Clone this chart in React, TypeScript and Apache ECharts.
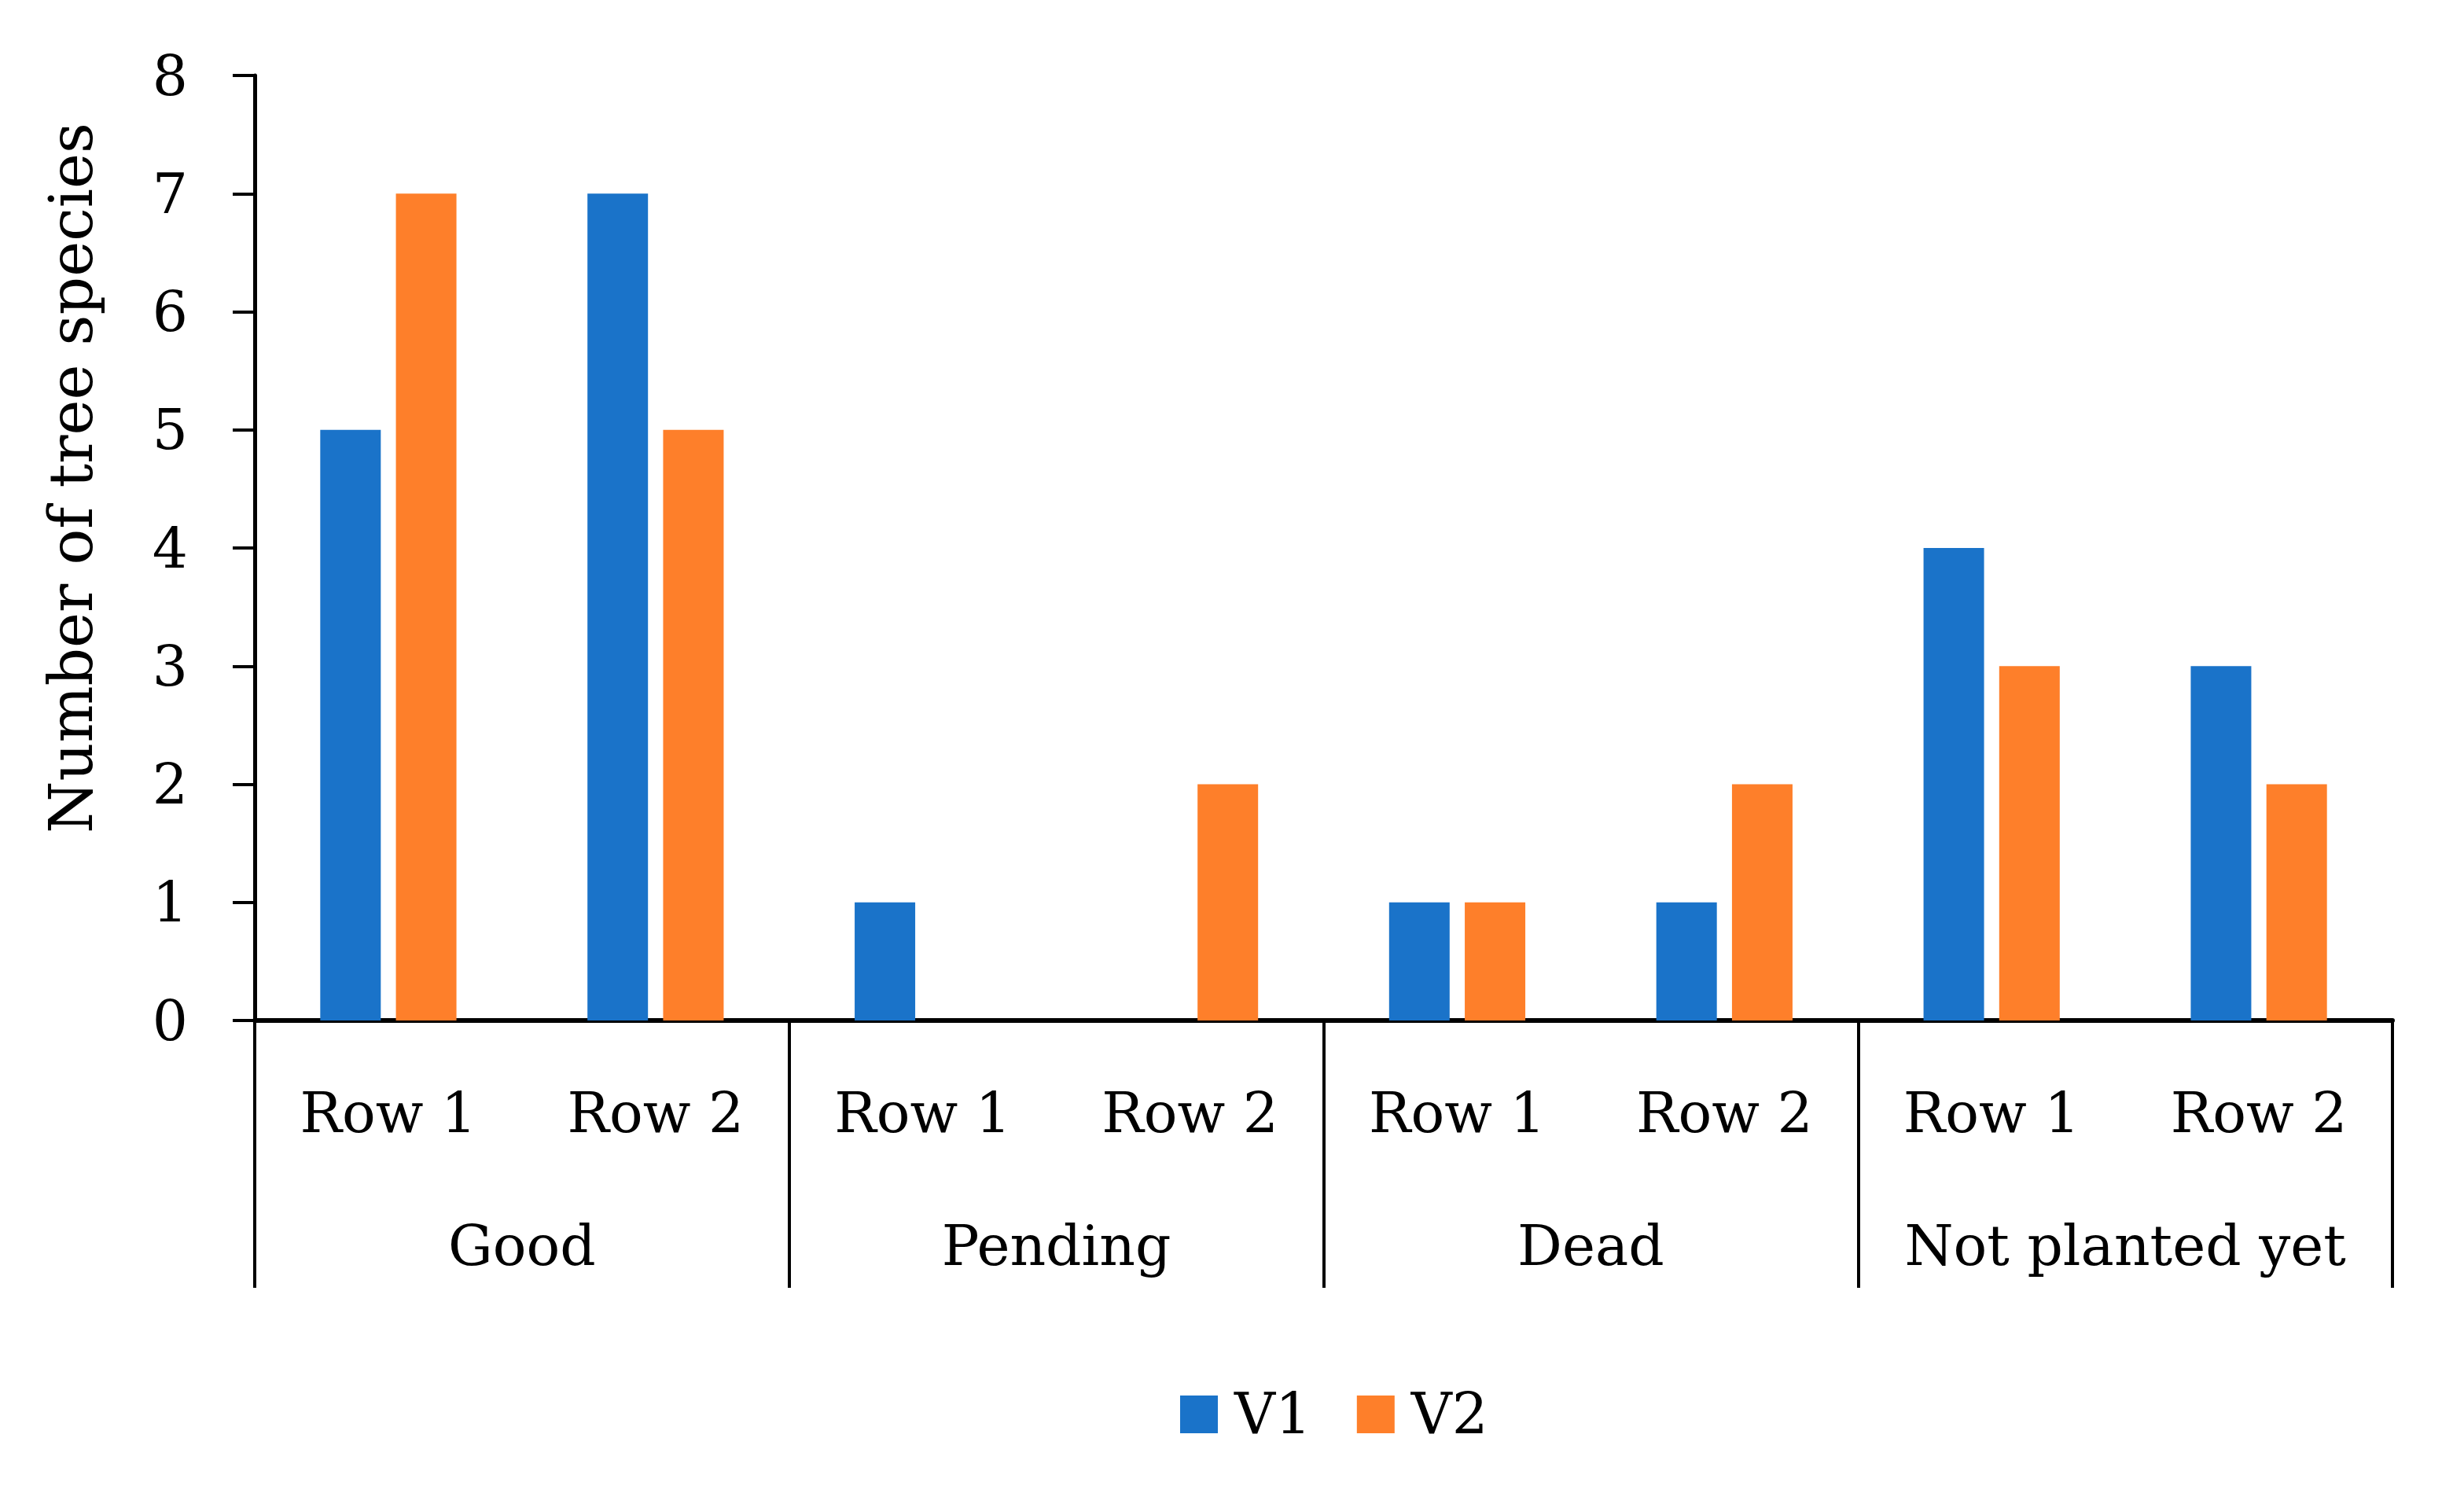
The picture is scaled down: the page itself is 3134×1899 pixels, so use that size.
import React, { useEffect, useRef } from "react";
import * as echarts from "echarts";

const groups = ["Good", "Pending", "Dead", "Not planted yet"];
const rows = ["Row 1", "Row 2"];
const seriesNames = ["V1", "V2"];
const v1Values = [5, 7, 1, 0, 1, 1, 4, 3];
const v2Values = [7, 5, 0, 2, 1, 2, 3, 2];
const yTicks = { min: 0, max: 8, interval: 1 };
const yTitle = "Number of tree species";

const FONT = "DejaVu Serif";
const BLUE = "#1A73C9";
const ORANGE = "#FE7F2A";

export default function App() {
  const ref = useRef<HTMLDivElement>(null);

  useEffect(() => {
    if (!ref.current) return;
    const chart = echarts.init(ref.current, undefined, { renderer: "svg" });
    const categories = groups.flatMap((g) => rows.map((r) => `${g}|${r}`));
    const gridBox = { left: 324, right: 91, top: 96, bottom: 601 };

    chart.setOption({
      animation: false,
      backgroundColor: "#ffffff",
      grid: [{ ...gridBox }, { ...gridBox }],
      legend: {
        data: seriesNames,
        left: 1496,
        top: 1758,
        itemWidth: 48,
        itemHeight: 48,
        itemGap: 58,
        icon: "rect",
        textStyle: {
          fontFamily: FONT,
          fontSize: 72,
          color: "#000",
          lineHeight: 72,
          padding: [0, 0, 0, 16],
        },
      },
      xAxis: [
        {
          gridIndex: 0,
          type: "category",
          data: categories,
          axisLine: { show: true, lineStyle: { color: "#000", width: 6 } },
          axisTick: { show: false },
          axisLabel: {
            interval: 0,
            margin: 117,
            verticalAlign: "middle",
            fontFamily: FONT,
            fontSize: 71,
            color: "#000",
            formatter: (v: string) => v.split("|")[1],
          },
        },
        {
          gridIndex: 1,
          type: "category",
          data: groups,
          position: "bottom",
          axisLine: { show: false },
          axisTick: {
            show: true,
            interval: 0,
            length: 340,
            lineStyle: { color: "#000", width: 4 },
          },
          axisLabel: {
            interval: 0,
            margin: 286,
            verticalAlign: "middle",
            fontFamily: FONT,
            fontSize: 71,
            color: "#000",
          },
        },
      ],
      yAxis: [
        {
          gridIndex: 0,
          type: "value",
          min: yTicks.min,
          max: yTicks.max,
          interval: yTicks.interval,
          axisLine: { show: true, lineStyle: { color: "#000", width: 5 } },
          axisTick: { show: true, length: 28, lineStyle: { color: "#000", width: 4 } },
          splitLine: { show: false },
          axisLabel: {
            margin: 85,
            fontFamily: FONT,
            fontSize: 71,
            color: "#000",
          },
        },
        { gridIndex: 1, type: "value", show: false, min: 0, max: 8 },
      ],
      graphic: [
        {
          type: "text",
          x: 90,
          y: 608,
          rotation: Math.PI / 2,
          style: {
            text: yTitle,
            fontFamily: FONT,
            fontSize: 76,
            fill: "#000",
            align: "center",
            verticalAlign: "middle",
            textAlign: "center",
            textVerticalAlign: "middle",
          },
        },
      ],
      series: [
        {
          name: seriesNames[0],
          type: "bar",
          xAxisIndex: 0,
          yAxisIndex: 0,
          data: v1Values,
          barWidth: 77,
          barGap: "25%",
          itemStyle: { color: BLUE },
        },
        {
          name: seriesNames[1],
          type: "bar",
          xAxisIndex: 0,
          yAxisIndex: 0,
          data: v2Values,
          barWidth: 77,
          barGap: "25%",
          itemStyle: { color: ORANGE },
        },
      ],
    });

    return () => chart.dispose();
  }, []);

  return (
    <div
      ref={ref}
      style={{
        position: "fixed",
        left: 0,
        top: 0,
        width: "3134px",
        height: "1899px",
        background: "#fff",
      }}
    />
  );
}
